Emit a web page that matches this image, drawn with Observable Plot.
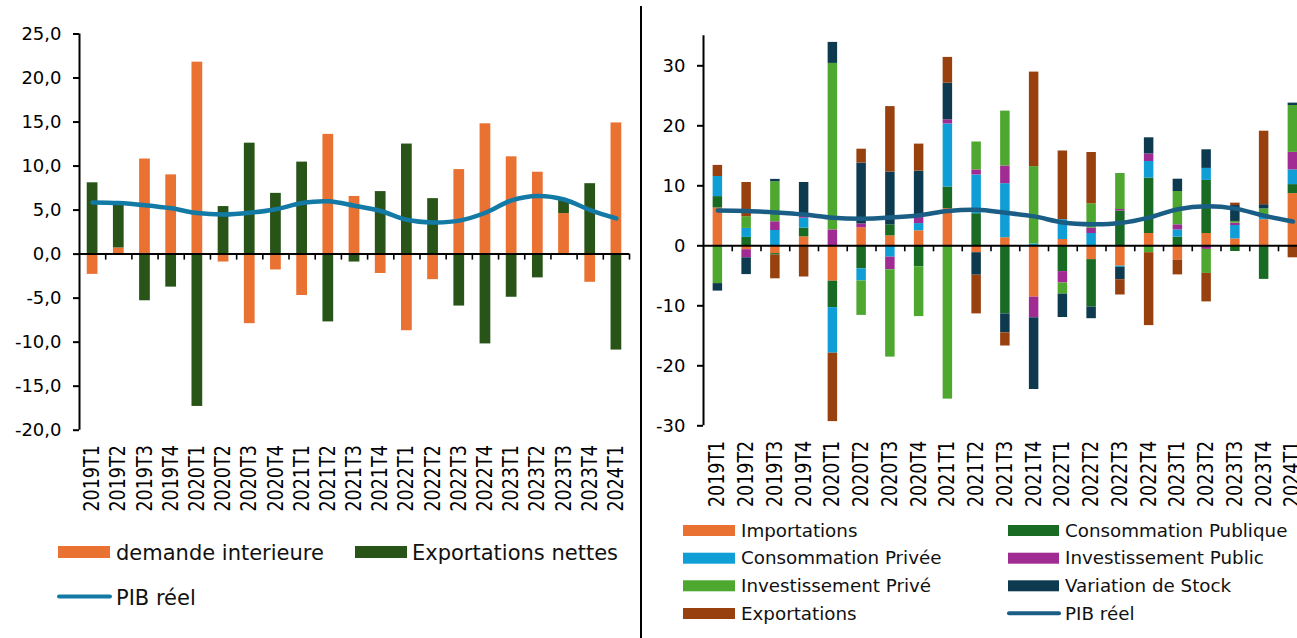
<!DOCTYPE html>
<html><head><meta charset="utf-8">
<script src="https://cdn.jsdelivr.net/npm/d3@7"></script>
<script src="https://cdn.jsdelivr.net/npm/@observablehq/plot@0.6"></script>
<style>
body{margin:0;background:#fff;}
#wrap{position:relative;width:1297px;height:638px;overflow:hidden;font-family:"DejaVu Sans",Verdana,sans-serif;background:#fff;}
#wrap > *{position:absolute;}
#sep{left:640px;top:6px;width:2px;height:632px;background:#000;}
</style></head><body><div id="wrap"></div>
<script>
const quarters = ["2019T1","2019T2","2019T3","2019T4","2020T1","2020T2","2020T3","2020T4","2021T1","2021T2","2021T3","2021T4","2022T1","2022T2","2022T3","2022T4","2023T1","2023T2","2023T3","2023T4","2024T1"];

// Left panel
const demandeInterieure = [-2.3, 0.7, 10.8, 9.0, 21.8, -0.9, -7.9, -1.8, -4.7, 13.6, 6.55, -2.2, -8.7, -2.9, 9.6, 14.8, 11.05, 9.3, 4.6, -3.2, 14.9];
const exportationsNettes = [8.1, 5.0, -5.3, -3.75, -17.3, 5.4, 12.6, 6.9, 10.45, -7.7, -0.9, 7.1, 12.5, 6.3, -5.9, -10.2, -4.9, -2.7, 1.5, 8.0, -10.9];
const pibReel = [5.87, 5.8, 5.55, 5.2, 4.66, 4.5, 4.7, 5.1, 5.8, 6.0, 5.5, 4.9, 3.9, 3.6, 3.8, 4.7, 6.1, 6.6, 6.2, 5.0, 4.05];
const leftSeries = ["demande interieure", "Exportations nettes"];
const leftColors = ["#E97132", "#285418"];
const leftLineColor = "#1379A5";
const leftYTicks = [-20, -15, -10, -5, 0, 5, 10, 15, 20, 25];

// Right panel
const importations = [6.3, -0.65, -1.3, 1.5, -5.9, 3.0, 1.65, 2.5, 6.2, -1.15, 1.35, -8.55, 1.05, -2.3, -3.4, 2.05, -2.4, 2.05, 1.15, 4.35, 8.7];
const consPublique = [1.9, 1.4, -0.25, 1.45, -4.4, -3.85, 1.85, -3.5, 3.6, 5.35, -11.35, 0, -4.3, -7.9, 5.8, 9.25, 1.45, 8.85, -0.95, -5.6, 1.5];
const consPrivee = [3.35, 1.5, 2.55, 1.65, -7.6, -2.0, -1.9, 1.2, 10.5, 6.45, 9.0, 0.3, 3.3, 2.05, -0.2, 2.75, 1.2, 2.0, 2.23, 0.45, 2.45];
const invPublic = [0, -1.35, 1.45, 0.4, 2.65, 0.65, -2.1, 1.0, 0.7, 0.85, 2.95, -3.45, -1.9, 0.9, 0.25, 1.25, 0.85, -0.6, 0.4, 0, 2.93];
const invPrive = [-6.3, 1.95, 6.67, 0, 27.75, -5.75, -14.55, -8.3, -25.55, 4.65, 9.15, 12.9, -1.85, 4.05, 6.0, -1.15, 5.55, -4.0, 0.28, 1.35, 7.8];
const varStock = [-1.25, -2.8, 0.4, 5.55, 3.5, 10.15, 8.8, 7.75, 6.1, -3.75, -3.15, -11.95, -3.9, -1.95, -2.05, 2.7, 2.05, 3.1, 2.65, 0.7, 0.4];
const exportations = [1.85, 5.7, -3.95, -5.2, -11.4, 2.3, 10.9, 4.5, 4.3, -6.45, -2.2, 15.75, 11.45, 8.55, -2.55, -12.15, -2.45, -4.75, 0.4, 12.25, -2.0];
const rightSeries = ["Importations", "Consommation Publique", "Consommation Privée", "Investissement Public", "Investissement Privé", "Variation de Stock", "Exportations"];
const rightColors = ["#E97132", "#196B24", "#0F9ED5", "#A02B93", "#4EA72E", "#0E3A50", "#98410F"];
const rightLineColor = "#1B5E85";
const rightYTicks = [-30, -20, -10, 0, 10, 20, 30];

const wrap = document.getElementById("wrap");
const FONT = "DejaVu Sans, Verdana, sans-serif";
const STRETCH = 1.18;

function stretchXLabels(svg) {
  svg.querySelectorAll('g[aria-label="x-axis tick label"] text').forEach(t => {
    const tr = t.getAttribute("transform") || "";
    t.setAttribute("transform", tr + ` scale(1,${STRETCH})`);
  });
}

// ---------- Left chart ----------
const W1 = 640, H1 = 520, ml1 = 79, mr1 = 11, mt1 = 33.5, mb1 = 90.3;
const step1 = (W1 - ml1 - mr1) / quarters.length;
const pad1 = 0.59;
const leftData = quarters.flatMap((q, i) => [
  {q, s: leftSeries[0], v: demandeInterieure[i]},
  {q, s: leftSeries[1], v: exportationsNettes[i]}
]);
const left = Plot.plot({
  width: W1, height: H1, marginLeft: ml1, marginRight: mr1, marginTop: mt1, marginBottom: mb1,
  style: {fontFamily: FONT, color: "#000", background: "transparent", overflow: "visible"},
  x: {type: "band", domain: quarters, paddingInner: pad1, paddingOuter: pad1 / 2, round: false},
  y: {domain: [-20, 25]},
  color: {domain: leftSeries, range: leftColors},
  marks: [
    Plot.barY(leftData, {x: "q", y: "v", fill: "s", order: leftSeries}),
    Plot.ruleY([0], {stroke: "#000", strokeWidth: 2}),
    Plot.ruleX(quarters, {x: d => d, dx: step1 / 2, y1: 0, y2: 0, insetBottom: -6, stroke: "#000", strokeWidth: 1.6}),
    Plot.ruleX([quarters[0]], {x: d => d, dx: -step1 / 2, stroke: "#000", strokeWidth: 2}),
    Plot.axisY({ticks: leftYTicks, tickSize: 6, tickPadding: 12, strokeWidth: 2, fontSize: 18, label: null,
      tickFormat: d => d.toFixed(1).replace(".", ",")}),
    Plot.axisX({anchor: "bottom", tickSize: 0, tickPadding: 15, tickRotate: -90, fontSize: 17.5, label: null}),
    Plot.line(quarters, {x: d => d, y: (d, i) => pibReel[i], curve: "catmull-rom",
      stroke: leftLineColor, strokeWidth: 4.5, strokeLinecap: "round"})
  ]
});
stretchXLabels(left);
left.style.left = "0px"; left.style.top = "0px";
wrap.appendChild(left);

// ---------- Right chart ----------
const W2 = 680, H2 = 520, ml2 = 63, mr2 = 13.25, mt2 = 35.3, mb2 = 94.7;
const step2 = (W2 - ml2 - mr2) / quarters.length;
const pad2 = 0.67;
const rightValues = [importations, consPublique, consPrivee, invPublic, invPrive, varStock, exportations];
const rightData = quarters.flatMap((q, i) => rightSeries.map((s, k) => ({q, s, v: rightValues[k][i]})));
const right = Plot.plot({
  width: W2, height: H2, marginLeft: ml2, marginRight: mr2, marginTop: mt2, marginBottom: mb2,
  style: {fontFamily: FONT, color: "#000", background: "transparent", overflow: "visible"},
  x: {type: "band", domain: quarters, paddingInner: pad2, paddingOuter: pad2 / 2, round: false},
  y: {domain: [-30, 35]},
  color: {domain: rightSeries, range: rightColors},
  marks: [
    Plot.barY(rightData, {x: "q", y: "v", fill: "s", order: rightSeries}),
    Plot.ruleY([0], {stroke: "#000", strokeWidth: 2}),
    Plot.ruleX(quarters, {x: d => d, dx: step2 / 2, y1: 0, y2: 0, insetBottom: -6, stroke: "#000", strokeWidth: 1.6}),
    Plot.ruleX([quarters[0]], {x: d => d, dx: -step2 / 2, stroke: "#000", strokeWidth: 2}),
    Plot.axisY({ticks: rightYTicks, tickSize: 6, tickPadding: 12, strokeWidth: 2, fontSize: 18, label: null,
      tickFormat: d => String(d)}),
    Plot.axisX({anchor: "bottom", tickSize: 0, tickPadding: 15, tickRotate: -90, fontSize: 17.5, label: null}),
    Plot.line(quarters, {x: d => d, y: (d, i) => pibReel[i], curve: "catmull-rom",
      stroke: rightLineColor, strokeWidth: 4.5, strokeLinecap: "round"})
  ]
});
stretchXLabels(right);
right.style.left = "640px"; right.style.top = "0px";
wrap.appendChild(right);

// ---------- separator ----------
const sep = document.createElement("div");
sep.id = "sep";
wrap.appendChild(sep);

function legendText(svg, x, y, size, label) {
  svg.append("text").attr("x", x).attr("y", y)
    .attr("font-size", size).attr("fill", "#111").text(label);
}

// ---------- Left legend ----------
const lg1 = d3.create("svg").attr("width", 640).attr("height", 118)
  .style("left", "0px").style("top", "520px").style("font-family", FONT);
const l1items = [
  {type: "rect", x: 58, y: 26, color: leftColors[0], label: leftSeries[0], tx: 116, ty: 40},
  {type: "rect", x: 355, y: 26, color: leftColors[1], label: leftSeries[1], tx: 412, ty: 40},
  {type: "line", x: 58, y: 76.5, color: leftLineColor, label: "PIB réel", tx: 116, ty: 84.5}
];
for (const it of l1items) {
  if (it.type === "rect") lg1.append("rect").attr("x", it.x).attr("y", it.y).attr("width", 52).attr("height", 12).attr("fill", it.color);
  else lg1.append("line").attr("x1", it.x + 1).attr("x2", it.x + 52).attr("y1", it.y).attr("y2", it.y)
    .attr("stroke", it.color).attr("stroke-width", 4).attr("stroke-linecap", "round");
  legendText(lg1, it.tx, it.ty, 21, it.label);
}
wrap.appendChild(lg1.node());

// ---------- Right legend ----------
const lg2 = d3.create("svg").attr("width", 657).attr("height", 138)
  .style("left", "640px").style("top", "500px").style("font-family", FONT);
const rowsY = [25, 52.7, 80.3, 108];
const col1 = [0, 2, 4, 6], col2 = [1, 3, 5];
col1.forEach((k, r) => {
  lg2.append("rect").attr("x", 43).attr("y", rowsY[r]).attr("width", 52).attr("height", 11).attr("fill", rightColors[k]);
  legendText(lg2, 101, rowsY[r] + 11.7, 18.3, rightSeries[k]);
});
col2.forEach((k, r) => {
  lg2.append("rect").attr("x", 368).attr("y", rowsY[r]).attr("width", 51).attr("height", 11).attr("fill", rightColors[k]);
  legendText(lg2, 425, rowsY[r] + 11.7, 18.3, rightSeries[k]);
});
lg2.append("line").attr("x1", 369).attr("x2", 419).attr("y1", rowsY[3] + 5.3).attr("y2", rowsY[3] + 5.3)
  .attr("stroke", rightLineColor).attr("stroke-width", 4).attr("stroke-linecap", "round");
legendText(lg2, 425, rowsY[3] + 11.7, 18.3, "PIB réel");
wrap.appendChild(lg2.node());
</script>
</body></html>
